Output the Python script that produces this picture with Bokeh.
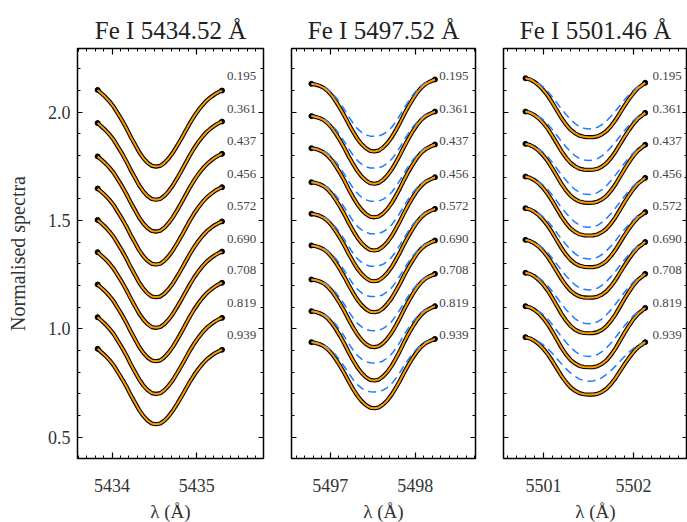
import numpy as np
from bokeh.plotting import figure
from bokeh.layouts import row
from bokeh.models import (LinearAxis, SingleIntervalTicker, Range1d,
                          NumeralTickFormatter, Title, CustomJSTickFormatter)
from bokeh.core.properties import value
from bokeh.embed import file_html
from bokeh.resources import INLINE

# ---------------- data ----------------
MU_LABELS = ["0.195", "0.361", "0.437", "0.456", "0.572", "0.690", "0.708", "0.819", "0.939"]
LABEL_Y = [2.166, 2.014, 1.865, 1.716, 1.566, 1.416, 1.270, 1.119, 0.970]

TITLES = ["Fe I 5434.52 Å", "Fe I 5497.52 Å", "Fe I 5501.46 Å"]
X_RANGES = [(5433.592, 5435.79), (5496.546, 5498.706), (5500.556, 5502.60)]
LABEL_X = [5435.36, 5498.28, 5502.21]
CENTRES = [5434.52, 5497.52, 5501.50]

# panel 1 : offsets from line centre (Å) and normalised profile depth
D1 = [-0.69, -0.65, -0.60, -0.55, -0.50, -0.45, -0.40, -0.35, -0.30, -0.25, -0.20, -0.15, -0.10, -0.05, 0.00,
      0.05, 0.10, 0.15, 0.20, 0.25, 0.30, 0.35, 0.40, 0.45, 0.50, 0.55, 0.60, 0.65, 0.70, 0.75, 0.78]
S1 = [0.0, 0.04, 0.09, 0.15, 0.22, 0.31, 0.40, 0.50, 0.61, 0.71, 0.81, 0.89, 0.95, 0.99, 1.0,
      0.99, 0.95, 0.89, 0.815, 0.725, 0.63, 0.53, 0.43, 0.34, 0.26, 0.19, 0.13, 0.085, 0.045, 0.015, 0.0]
L1 = [2.103, 1.950, 1.796, 1.648, 1.503, 1.354, 1.205, 1.054, 0.908]
R1 = [2.100, 1.957, 1.808, 1.654, 1.496, 1.357, 1.213, 1.051, 0.904]
C1 = [1.749, 1.596, 1.449, 1.297, 1.146, 1.005, 0.851, 0.700, 0.560]

# panel 2
D2 = [-0.74, -0.70, -0.65, -0.60, -0.55, -0.50, -0.45, -0.40, -0.35, -0.30, -0.25, -0.20, -0.15, -0.10, -0.05, 0.00,
      0.05, 0.10, 0.15, 0.20, 0.25, 0.30, 0.35, 0.40, 0.45, 0.50, 0.55, 0.60, 0.65, 0.71]
S2 = [0.0, 0.01, 0.03, 0.06, 0.11, 0.18, 0.27, 0.37, 0.48, 0.60, 0.71, 0.81, 0.89, 0.95, 0.99, 1.0,
      0.99, 0.95, 0.89, 0.81, 0.71, 0.60, 0.48, 0.37, 0.27, 0.18, 0.11, 0.06, 0.03, 0.0]
S2B = [0.0, 0.01, 0.03, 0.06, 0.11, 0.18, 0.27, 0.38, 0.50, 0.63, 0.75, 0.85, 0.92, 0.97, 0.995, 1.0,
       0.995, 0.97, 0.92, 0.85, 0.75, 0.63, 0.50, 0.38, 0.27, 0.18, 0.11, 0.06, 0.03, 0.0]
L2 = [2.131, 1.982, 1.834, 1.677, 1.531, 1.385, 1.228, 1.082, 0.939]
R2 = [2.151, 2.003, 1.851, 1.700, 1.554, 1.408, 1.254, 1.105, 0.954]
C2 = [1.819, 1.670, 1.515, 1.362, 1.220, 1.077, 0.916, 0.762, 0.634]
B2 = [1.889, 1.742, 1.589, 1.439, 1.289, 1.149, 0.992, 0.843, 0.709]

# panel 3
D3 = [-0.70, -0.65, -0.60, -0.55, -0.50, -0.45, -0.40, -0.35, -0.30, -0.25, -0.20, -0.15, -0.10, -0.05, 0.00,
      0.05, 0.10, 0.15, 0.20, 0.25, 0.30, 0.35, 0.40, 0.45, 0.50, 0.55, 0.60, 0.63]
S3 = [0.0, 0.02, 0.06, 0.12, 0.20, 0.30, 0.42, 0.55, 0.68, 0.79, 0.88, 0.94, 0.98, 0.997, 1.0,
      0.997, 0.98, 0.94, 0.88, 0.79, 0.68, 0.55, 0.42, 0.30, 0.19, 0.10, 0.04, 0.0]
S3B = [0.0, 0.02, 0.05, 0.10, 0.17, 0.26, 0.37, 0.49, 0.61, 0.72, 0.82, 0.90, 0.96, 0.99, 1.0,
       0.99, 0.96, 0.90, 0.82, 0.72, 0.61, 0.49, 0.37, 0.26, 0.16, 0.08, 0.03, 0.0]
L3 = [2.157, 2.003, 1.854, 1.703, 1.557, 1.411, 1.259, 1.105, 0.962]
R3 = [2.136, 1.997, 1.850, 1.697, 1.539, 1.401, 1.254, 1.097, 0.939]
C3 = [1.885, 1.734, 1.582, 1.431, 1.285, 1.144, 0.980, 0.823, 0.697]
B3 = [1.923, 1.777, 1.620, 1.469, 1.323, 1.180, 1.024, 0.873, 0.759]

Y_RANGE = (0.402, 2.294)

# ---------------- helpers ----------------
SERIF = "Liberation Serif"
BLANK = CustomJSTickFormatter(code="return ''")


def profile(d, s, left, right, core):
    d = np.asarray(d)
    s = np.asarray(s)
    t = (d - d[0]) / (d[-1] - d[0])
    base = left + (right - left) * t
    base0 = left + (right - left) * (0 - d[0]) / (d[-1] - d[0])
    return base - (base0 - core) * s


def style(ax, labels=True, size="18px"):
    ax.axis_line_color = None
    ax.major_tick_in = 6
    ax.major_tick_out = 0
    ax.minor_tick_in = 3
    ax.minor_tick_out = 0
    ax.major_tick_line_color = "black"
    ax.minor_tick_line_color = "black"
    ax.major_tick_line_width = 1.2
    ax.minor_tick_line_width = 1.0
    ax.major_label_text_font = SERIF
    ax.major_label_text_color = "#333333"
    if labels:
        ax.major_label_text_font_size = size
    else:
        ax.formatter = BLANK
        ax.major_label_text_font_size = "1px"
        ax.major_label_standoff = 0


panels = [
    (D1, S1, None, L1, R1, C1, None),
    (D2, S2, S2B, L2, R2, C2, B2),
    (D3, S3, S3B, L3, R3, C3, B3),
]

figs = []
frame_w = [186, 184, 184]
for k, (d, s, sb, L, R, C, B) in enumerate(panels):
    first = k == 0
    p = figure(frame_width=frame_w[k], frame_height=410,
               x_range=Range1d(*X_RANGES[k]), y_range=Range1d(*Y_RANGE),
               output_backend="svg", toolbar_location=None,
               min_border_left=77 if first else 14,
               min_border_right=0 if k == 2 else 14,
               min_border_top=48, min_border_bottom=64,
               x_axis_type=None, y_axis_type=None)
    p.background_fill_color = "white"
    p.border_fill_color = "white"
    p.outline_line_color = "black"
    p.outline_line_width = 1.5
    p.xgrid.visible = False
    p.ygrid.visible = False

    xb = LinearAxis(ticker=SingleIntervalTicker(interval=1, num_minor_ticks=10), axis_label="λ (Å)")
    style(xb, True, "18px")
    xb.major_label_standoff = 20
    xb.axis_label_text_font = SERIF
    xb.axis_label_text_font_style = "normal"
    xb.axis_label_text_font_size = "19px"
    xb.axis_label_text_color = "#333333"
    xb.axis_label_standoff = 6
    p.add_layout(xb, "below")

    xa = LinearAxis(ticker=SingleIntervalTicker(interval=1, num_minor_ticks=10))
    style(xa, False)
    p.add_layout(xa, "above")

    if first:
        yl = LinearAxis(ticker=SingleIntervalTicker(interval=0.5, num_minor_ticks=5),
                        formatter=NumeralTickFormatter(format="0.0"))
        style(yl, True, "18px")
        yl.major_label_standoff = 7
        yl.axis_label = "Normalised spectra"
        yl.axis_label_text_font = SERIF
        yl.axis_label_text_font_style = "normal"
        yl.axis_label_text_font_size = "20px"
        yl.axis_label_text_color = "#333333"
        yl.axis_label_standoff = 16
    else:
        yl = LinearAxis(ticker=SingleIntervalTicker(interval=0.5, num_minor_ticks=5))
        style(yl, False)
    yl.major_tick_in = 5
    p.add_layout(yl, "left")

    yr = LinearAxis(ticker=SingleIntervalTicker(interval=0.5, num_minor_ticks=5))
    style(yr, False)
    yr.major_tick_in = 5
    p.add_layout(yr, "right")

    x = CENTRES[k] + np.asarray(d)
    for i in range(len(L)):
        y = profile(d, s, L[i], R[i], C[i])
        p.line(x, y, line_color="black", line_width=4.2)
        p.scatter([x[0], x[-1]], [y[0], y[-1]], size=5, color="black")
        if B is not None:
            yb = profile(d, sb, L[i], R[i], B[i])
            p.line(x, yb, line_color="#1f7bff", line_width=1.5, line_dash="8 5")
        p.line(x, y, line_color="#ff9a00", line_width=2)

    p.text(x=[LABEL_X[k]] * len(MU_LABELS), y=LABEL_Y, text=MU_LABELS,
           text_font=value(SERIF), text_font_size="13px", text_color="#444444",
           text_baseline="middle", text_align="left")

    p.title = Title(text=TITLES[k], align="center", text_font=SERIF,
                    text_font_size="25px", text_font_style="normal",
                    text_color="#222222")
    figs.append(p)

layout = row(*figs, spacing=0)
open("out.html", "w").write(file_html(layout, INLINE))
